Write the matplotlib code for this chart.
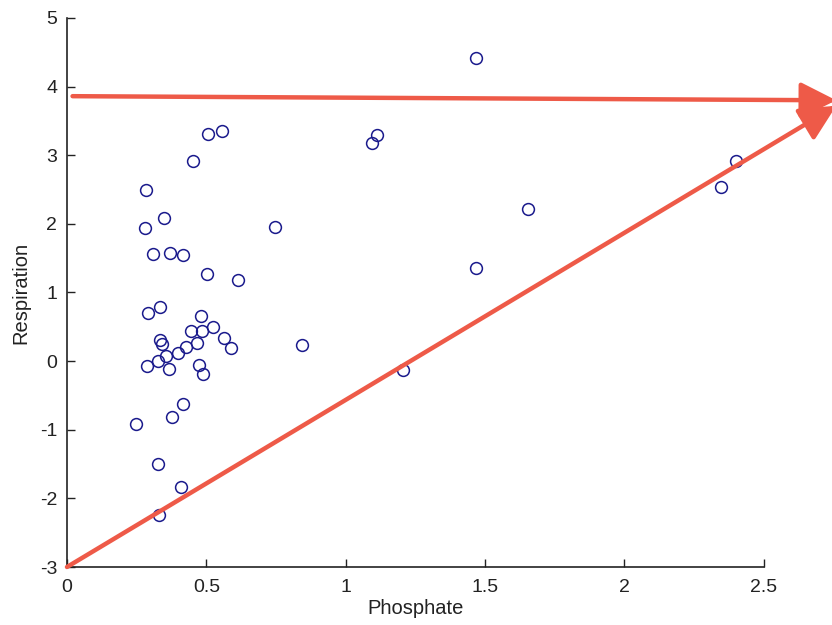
import matplotlib
matplotlib.use("Agg")
import matplotlib.pyplot as plt

phosphate = [0.290, 0.334, 0.480, 0.445, 0.483, 0.523, 0.564, 0.587, 0.467, 0.426,
             0.397, 0.357, 0.334, 0.342, 0.328, 0.286, 0.367, 0.475, 0.489, 0.417,
             0.378, 0.246, 0.328, 0.408, 0.330,
             0.507, 0.557, 0.453, 0.283, 0.349, 0.280, 0.310, 0.369, 0.417, 0.503, 0.614,
             1.469, 1.111, 1.096, 2.402, 2.345, 1.655, 1.469, 0.843, 1.205, 0.746]
respiration = [0.70, 0.79, 0.66, 0.44, 0.44, 0.49, 0.33, 0.185, 0.26, 0.21,
               0.12, 0.07, 0.31, 0.25, 0.00, -0.07, -0.12, -0.06, -0.19, -0.62,
               -0.82, -0.92, -1.50, -1.83, -2.245,
               3.31, 3.35, 2.92, 2.50, 2.08, 1.94, 1.56, 1.58, 1.55, 1.27, 1.18,
               4.41, 3.29, 3.18, 2.92, 2.54, 2.21, 1.35, 0.23, -0.13, 1.96]

x_ticks = [0, 0.5, 1, 1.5, 2, 2.5]
x_tick_labels = ["0", "0.5", "1", "1.5", "2", "2.5"]
y_ticks = [-3, -2, -1, 0, 1, 2, 3, 4, 5]
y_tick_labels = ["-3", "-2", "-1", "0", "1", "2", "3", "4", "5"]

# annotation arrows (start, end) in data units
h_arrow = ((0.02, 3.86), (2.76, 3.80))
d_arrow = ((0.0, -3.0), (2.76, 3.72))

plt.rcParams['font.family'] = ['Liberation Sans', 'DejaVu Sans']

fig = plt.figure(figsize=(8.32, 6.25), dpi=100)
ax = fig.add_axes([0.0805, 0.0928, 0.8375, 0.8785])

ax.plot(phosphate, respiration, linestyle='none', marker='o', markersize=8.5,
        markerfacecolor='none', markeredgecolor='#1a1a8c', markeredgewidth=1.1)

ax.set_xlim(0, 2.5)
ax.set_ylim(-3, 5)
ax.set_xticks(x_ticks)
ax.set_xticklabels(x_tick_labels)
ax.set_yticks(y_ticks)
ax.set_yticklabels(y_tick_labels)
ax.tick_params(direction='in', length=6, width=1, labelsize=14, colors='#222222')
ax.tick_params(axis='x', pad=9)
ax.tick_params(axis='y', pad=7)
for s in ['top', 'right']:
    ax.spines[s].set_visible(False)
for s in ['left', 'bottom']:
    ax.spines[s].set_color('#222222')
    ax.spines[s].set_linewidth(1.2)

ax.set_xlabel("Phosphate", fontsize=14.5, color='#222222', labelpad=2)
ax.set_ylabel("Respiration", fontsize=14.5, color='#222222', labelpad=7)

red = '#ee5a48'
for (x0, y0), (x1, y1) in [h_arrow, d_arrow]:
    ax.annotate('', xy=(x1, y1), xytext=(x0, y0), annotation_clip=False,
                arrowprops=dict(arrowstyle='-|>,head_length=1.1,head_width=0.55',
                                color=red, lw=3.2, mutation_scale=20,
                                shrinkA=0, shrinkB=0))

fig.savefig("out.png", dpi=100)
